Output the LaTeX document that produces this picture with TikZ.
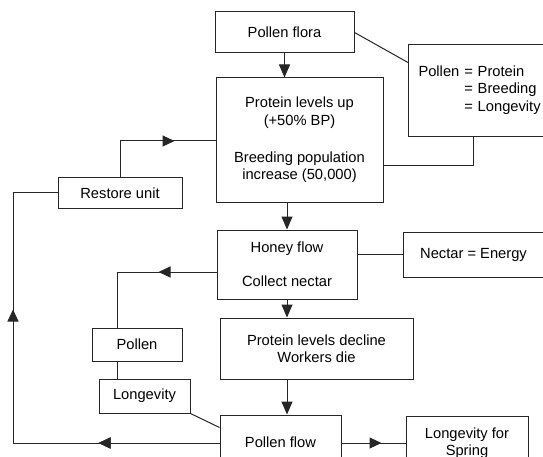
\documentclass[tikz,border=0pt]{standalone}
\usepackage{fontspec}
\setmainfont{Liberation Sans}
\usetikzlibrary{arrows.meta,decorations.markings}
\begin{document}
\begin{tikzpicture}[x=1pt,y=-1pt,
  conn/.style={draw=black!85, line width=1pt},
  box/.style={draw=black!85, line width=1pt, inner sep=0pt, font=\fontsize{14.7}{17.4}\selectfont, text=black, align=center},
  tipend/.style={-{Triangle[length=13pt,width=11pt]}},
  midarrow/.style={postaction={decorate}, decoration={markings, mark=at position #1 with {\arrow{Triangle[length=12pt,width=11pt]}}}}
]
\useasboundingbox (0,0) rectangle (543,457);
\clip (0,0) rectangle (543,457);

% boxes
\node[box, minimum width=139pt, minimum height=41pt] (pflora) at (284.5,32.5) {Pollen flora};
\node[box, minimum width=152pt, minimum height=92pt, anchor=north west, align=left, text width=132pt, inner xsep=10pt] (pp) at (408,44)
  {\begin{tabular}{@{}l@{ }l@{}}Pollen & = Protein\\ & = Breeding\\ & = Longevity\end{tabular}};
\node[box, minimum width=167pt, minimum height=124pt] (protein) at (299.5,140)
  {Protein levels up\\(+50\% BP)\\[20pt]Breeding population\\increase (50,000)};
\node[box, minimum width=124pt, minimum height=30pt] (restore) at (120,193) {Restore unit};
\node[box, minimum width=140pt, minimum height=69pt] (honey) at (287,264.5) {Honey flow\\[17pt]Collect nectar};
\node[box, minimum width=141pt, minimum height=45pt] (nectar) at (473.5,254.5) {Nectar = Energy};
\node[box, minimum width=90pt, minimum height=33pt] (pol) at (137,344.5) {Pollen};
\node[box, minimum width=91pt, minimum height=34pt] (lon) at (144.5,396) {Longevity};
\node[box, minimum width=193pt, minimum height=61pt] (decline) at (316.5,348.5) {Protein levels decline\\Workers die};
\node[box, minimum width=121pt, minimum height=56pt] (pflow) at (280.5,443) {\raisebox{2pt}{Pollen flow}};
\node[box, minimum width=122pt, minimum height=54pt] (lfs) at (467,443) {\raisebox{2pt}{\shortstack{Longevity for\\Spring}}};
\coordinate (leftrail) at (13,0);

% connectors
\draw[conn] (pflora.east) -- ([yshift=28pt]pp.west);
\draw[conn] ([xshift=65pt]pp.south west) |- ([yshift=-26pt]protein.east);
\draw[conn, tipend] (pflora.south) -- (pflora.south |- protein.north);
\draw[conn, midarrow=91pt] (restore.north) |- ([yshift=-1pt]protein.west);
\draw[conn, tipend] (honey.north |- protein.south) -- (honey.north);
\draw[conn] ([yshift=10pt]honey.east) -- (nectar.west);
\draw[conn, midarrow=58pt] ([yshift=-7.5pt]honey.west) -| ([xshift=-20pt]pol.north);
\draw[conn, tipend] (honey.south) -- (honey.south |- decline.north);
\draw[conn] ([xshift=-20pt]pol.south) -- ([xshift=-27.5pt]lon.north);
\draw[conn] (lon.south east) -- ([yshift=-13pt]pflow.north west);
\draw[conn, tipend] ([xshift=-29.5pt]decline.south) -- ([xshift=6.5pt]pflow.north);
\draw[conn, midarrow=40pt] (pflow.east) -- (lfs.west);
\draw[conn, midarrow=121pt, postaction={decorate, decoration={markings, mark=at position 340pt with {\arrow{Triangle[length=12pt,width=11pt]}}}}]
  (pflow.west) -| (leftrail |- restore.west) -- (restore.west);
\end{tikzpicture}
\end{document}
